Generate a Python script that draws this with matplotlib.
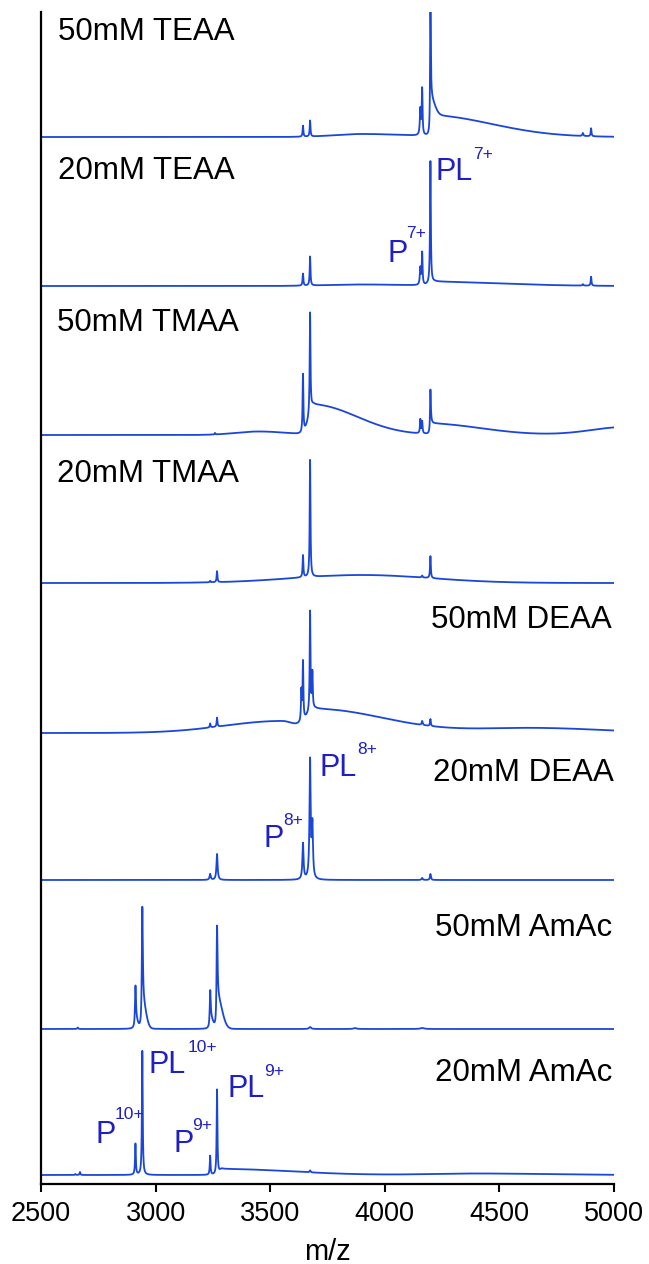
import numpy as np
import matplotlib
matplotlib.use("Agg")
import matplotlib.pyplot as plt

plt.rcParams['font.family'] = ['Liberation Sans', 'DejaVu Sans']

# sample labels, top to bottom
labels = ["50mM TEAA", "20mM TEAA", "50mM TMAA", "20mM TMAA",
          "50mM DEAA", "20mM DEAA", "50mM AmAc", "20mM AmAc"]

# baseline of each trace (stacked offset, same units as intensity)
offsets = [1047, 898, 749, 601, 451, 304, 155, 9]

# sharp peaks: (m/z, height, fwhm)
peaks_50_teaa = [(3643, 11, 4), (3674, 16, 4), (4155, 26, 5), (4163, 46, 4),
                 (4199, 100, 4), (4864, 3, 5), (4900, 8, 4)]
peaks_20_teaa = [(3643, 12, 4), (3674, 29, 4), (4155, 17, 5), (4163, 32, 4),
                 (4199, 122, 4), (4864, 1.5, 5), (4900, 9, 4)]
peaks_50_tmaa = [(3259, 1.5, 4), (3643, 58, 4), (3674, 100, 4), (4155, 14, 4),
                 (4163, 12, 4), (4199, 40, 4)]
peaks_20_tmaa = [(3238, 1.5, 4), (3268, 11, 4), (3643, 22, 4), (3674, 117, 4),
                 (4163, 2, 5), (4199, 22, 4)]
peaks_50_deaa = [(3238, 4, 4), (3268, 9, 4), (3636, 30, 4), (3643, 58, 4),
                 (3674, 100, 4), (3684, 36, 4), (4163, 4, 5), (4199, 7, 4)]
peaks_20_deaa = [(3238, 6, 6), (3268, 26, 6), (3643, 36, 6), (3674, 118, 6),
                 (3684, 52, 6), (4163, 2, 6), (4199, 6, 5)]
peaks_50_amac = [(2660, 1.5, 5), (2912, 38, 5), (2942, 102, 5), (3238, 32, 5),
                 (3268, 79, 5), (3674, 2, 10), (3870, 1, 15), (4163, 1, 20)]
peaks_20_amac = [(2650, 1, 4), (2670, 3, 4), (2912, 31, 4), (2942, 124, 4),
                 (3238, 19, 4), (3268, 85, 4), (3674, 2, 5)]

# broad background: (m/z, height, left width, right width)
humps_50_teaa = [(3900, 3, 120, 200), (4200, 16, 1.5, 18), (4201, 21, 2, 270)]
humps_20_teaa = [(3900, 1.5, 150, 200), (4220, 4, 20, 300)]
humps_50_tmaa = [(3450, 3.5, 100, 120), (3690, 30, 20, 190),
                 (4203, 11, 3, 220), (5050, 8, 150, 100)]
humps_20_tmaa = [(3900, 8, 300, 300)]
humps_50_deaa = [(3550, 12, 250, 60), (3700, 24, 40, 300), (4650, 5, 250, 300)]
humps_20_deaa = []
humps_50_amac = [(2914, 8, 2, 8), (2944, 25, 3, 14), (3240, 10, 2, 10),
                 (3270, 30, 3, 20)]
humps_20_amac = [(3290, 6, 10, 300), (4400, 1.5, 200, 300)]

all_peaks = [peaks_50_teaa, peaks_20_teaa, peaks_50_tmaa, peaks_20_tmaa,
             peaks_50_deaa, peaks_20_deaa, peaks_50_amac, peaks_20_amac]
all_humps = [humps_50_teaa, humps_20_teaa, humps_50_tmaa, humps_20_tmaa,
             humps_50_deaa, humps_20_deaa, humps_50_amac, humps_20_amac]

# ion annotations: (main text, superscript, x, y, sup x, sup y)
ions = [("PL", "7+", 4222, 1004, 4386, 1025),
        ("P", "7+", 4010, 922, 4092, 946),
        ("PL", "8+", 3713, 408, 3880, 430),
        ("P", "8+", 3469, 337, 3556, 359),
        ("PL", "10+", 2967, 111, 3138, 132),
        ("P", "10+", 2736, 41, 2822, 65),
        ("PL", "9+", 3312, 87, 3473, 108),
        ("P", "9+", 3076, 32, 3159, 54)]

line_col = "#1a47d9"
ion_col = "#1f1fc4"

mz = np.linspace(2500, 5000, 5001)


def build(peaks, humps):
    y = np.zeros_like(mz)
    for c, h, w in peaks:
        y += h / (1 + ((mz - c) / (w / 2)) ** 2)
    for c, h, sl, sr in humps:
        s = np.where(mz < c, sl, sr)
        y += h * np.exp(-0.5 * ((mz - c) / s) ** 2)
    return y


fig = plt.figure(figsize=(6.49, 12.64), dpi=100)
ax = fig.add_axes([41 / 649, 80 / 1264, 573 / 649, 1172 / 1264])

for i in range(len(labels)):
    ax.plot(mz, build(all_peaks[i], all_humps[i]) + offsets[i],
            color=line_col, lw=1.3)

label_pos = [(2574, 1144, "left"), (2574, 1005, "left"), (2570, 853, "left"),
             (2570, 702, "left"), (4991, 556, "right"), (5000, 403, "right"),
             (4991, 248, "right"), (4991, 103, "right")]
for lab, (x, y, ha) in zip(labels, label_pos):
    ax.text(x, y, lab, fontsize=22.5, ha=ha, va="baseline", color="black")

for main, sup, x, y, sx, sy in ions:
    ax.text(x, y, main, fontsize=22, color=ion_col, va="baseline")
    ax.text(sx, sy, sup, fontsize=12.5, color=ion_col, va="baseline")

ax.set_xlim(2500, 5000)
ax.set_ylim(0, 1172)
ax.set_xticks([2500, 3000, 3500, 4000, 4500, 5000])
ax.set_yticks([])
ax.spines['top'].set_visible(False)
ax.spines['right'].set_visible(False)
ax.spines['left'].set_linewidth(1.6)
ax.spines['bottom'].set_linewidth(1.6)
ax.tick_params(axis='x', direction='out', length=6, width=1.5,
               labelsize=19.5, pad=6)
ax.set_xlabel("m/z", fontsize=21, labelpad=8)

fig.savefig("out.png", dpi=100)
